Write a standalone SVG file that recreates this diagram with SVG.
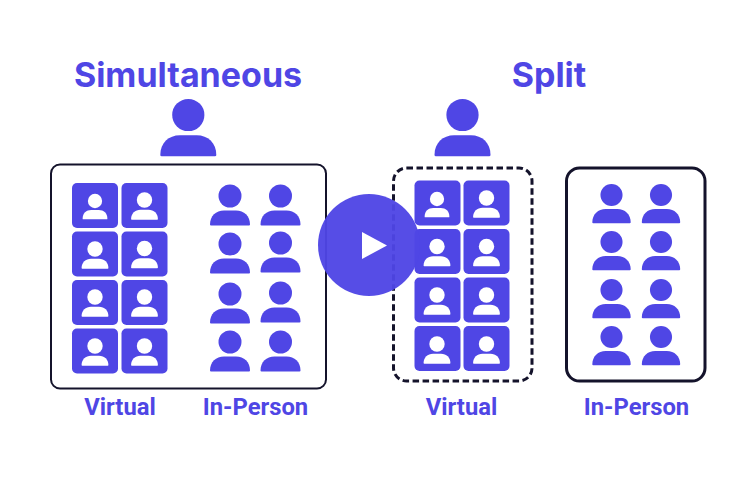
<svg xmlns="http://www.w3.org/2000/svg" width="738" height="491" viewBox="0 0 738 491">
<style>
.t{font-family:Inter,"Liberation Sans",sans-serif;font-weight:700;fill:#4f46e5;text-anchor:middle}
.h{font-size:34px}
.l{font-size:23.800px;font-family:Roboto,"Liberation Sans",sans-serif}
.tile{fill:#4f46e5}
.blue{fill:#4f46e5}
.white{fill:#fff}
.box{fill:none;stroke:#14132b}
</style>
<defs>
<g id="p"><circle cx="0" cy="0" r="11.500"/><path d="M-19 29.500Q-20 29.500-20 28.500C-20 20-14 14.500-6 14.500H6C14 14.500 20 20 20 28.500Q20 29.500 19 29.500Z"/></g>
<rect id="r" width="46" height="45" rx="5"/>
</defs>
<rect width="738" height="491" fill="#fff"/>
<text class="t h" x="188" y="87">Simultaneous</text>
<text class="t h" x="549" y="87">Split</text>
<g id="host-left" class="blue"><use href="#p" transform="translate(188.300 115) scale(1.400)"/></g>
<g id="host-right" class="blue"><use href="#p" transform="translate(462.500 115) scale(1.400)"/></g>
<g id="box-simultaneous"><rect class="box" x="51" y="164.500" width="275" height="224" rx="9" stroke-width="2"/></g>
<g id="box-split-virtual"><rect class="box" x="393.500" y="168" width="138.500" height="213" rx="13" stroke-width="3" stroke-dasharray="6.500 3.500"/></g>
<g id="box-split-person"><rect class="box" x="566.500" y="168" width="138.500" height="213" rx="13" stroke-width="3"/></g>
<g id="virtual-left">
<g class="tile"><use href="#r" x="72" y="183"/><use href="#r" x="121.500" y="183"/><use href="#r" x="72" y="231.500"/><use href="#r" x="121.500" y="231.500"/><use href="#r" x="72" y="280"/><use href="#r" x="121.500" y="280"/><use href="#r" x="72" y="328.500"/><use href="#r" x="121.500" y="328.500"/></g>
<g class="white"><use href="#p" transform="translate(95 201) scale(.62)"/><use href="#p" transform="translate(144.500 200) scale(.67)"/><use href="#p" transform="translate(95 249) scale(.67)"/><use href="#p" transform="translate(144.500 248.500) scale(.67)"/><use href="#p" transform="translate(95 297) scale(.67)"/><use href="#p" transform="translate(144.500 297) scale(.67)"/><use href="#p" transform="translate(95 346) scale(.67)"/><use href="#p" transform="translate(144.500 346) scale(.67)"/></g>
</g>
<g id="inperson-left" class="blue">
<use href="#p" x="230" y="196"/><use href="#p" x="280.500" y="196"/>
<use href="#p" x="230" y="244"/><use href="#p" x="280.500" y="243"/>
<use href="#p" x="230" y="294"/><use href="#p" x="280.500" y="293"/>
<use href="#p" x="230" y="342"/><use href="#p" x="280.500" y="342"/>
</g>
<g id="virtual-right">
<g class="tile"><use href="#r" x="414.500" y="180.500"/><use href="#r" x="463.500" y="180.500"/><use href="#r" x="414.500" y="229"/><use href="#r" x="463.500" y="229"/><use href="#r" x="414.500" y="277.500"/><use href="#r" x="463.500" y="277.500"/><use href="#r" x="414.500" y="326"/><use href="#r" x="463.500" y="326"/></g>
<g class="white"><use href="#p" transform="translate(437 199) scale(.62)"/><use href="#p" transform="translate(486.500 198) scale(.67)"/><use href="#p" transform="translate(437 246.500) scale(.67)"/><use href="#p" transform="translate(486.500 246.500) scale(.67)"/><use href="#p" transform="translate(437 295) scale(.67)"/><use href="#p" transform="translate(486.500 295) scale(.67)"/><use href="#p" transform="translate(437 344) scale(.67)"/><use href="#p" transform="translate(486.500 344) scale(.67)"/></g>
</g>
<g id="inperson-right" class="blue">
<use href="#p" transform="translate(611.500 195) scale(.96)"/><use href="#p" transform="translate(661 195) scale(.96)"/>
<use href="#p" transform="translate(611.500 242) scale(.96)"/><use href="#p" transform="translate(661 242) scale(.96)"/>
<use href="#p" transform="translate(611.500 290) scale(.96)"/><use href="#p" transform="translate(661 290) scale(.96)"/>
<use href="#p" transform="translate(611.500 337) scale(.96)"/><use href="#p" transform="translate(661 337) scale(.96)"/>
</g>
<text class="t l" x="120" y="415">Virtual</text>
<text class="t l" x="255.500" y="415">In-Person</text>
<text class="t l" x="461.500" y="415">Virtual</text>
<text class="t l" x="636.500" y="415">In-Person</text>
<g id="play"><circle cx="369" cy="245" r="51" fill="#4f46e5" fill-opacity=".96"/><path d="M362 232L387 245.500L362 259Z" fill="#fff"/></g>
</svg>
